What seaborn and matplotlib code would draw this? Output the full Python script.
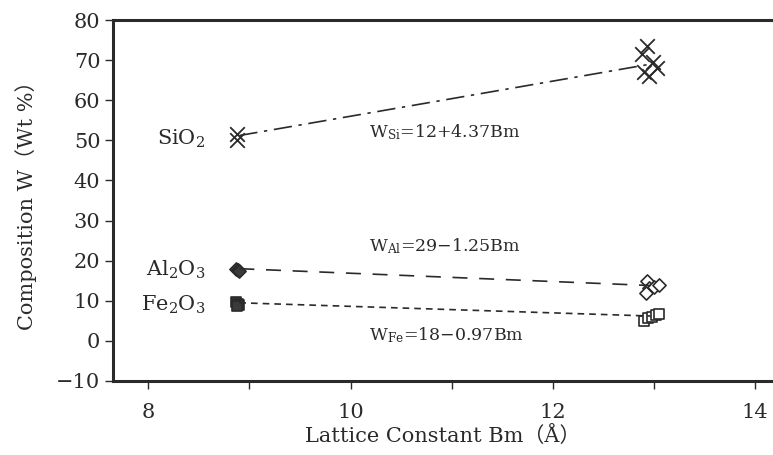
import matplotlib
matplotlib.use("Agg")
import matplotlib.pyplot as plt
import seaborn as sns
import pandas as pd
from matplotlib.ticker import MultipleLocator

# ---- data ----
si_x = [8.88, 8.88, 12.93, 12.88, 12.99, 12.90, 13.03, 12.95]
si_y = [51.5, 50.0, 73.5, 71.5, 69.5, 67.0, 68.0, 66.0]
al_x = [8.87, 8.89, 8.90, 12.93, 12.95, 12.92, 13.00, 13.05]
al_y = [18.0, 17.7, 17.4, 15.0, 13.2, 12.0, 13.5, 14.0]
fe_x = [8.87, 8.89, 8.90, 8.88, 12.90, 12.94, 12.98, 13.02, 13.05]
fe_y = [9.8, 9.3, 9.0, 8.6, 5.0, 5.6, 6.0, 6.5, 6.8]

fit_x = [8.90, 12.97]
si_fit = [51.2, 69.0]
al_fit = [18.0, 13.8]
fe_fit = [9.5, 6.2]

x_ticks = [8, 10, 12, 14]
y_ticks = [-10, 0, 10, 20, 30, 40, 50, 60, 70, 80]

sns.set_theme(style="white")
plt.rcParams['font.family'] = ['DejaVu Serif', 'Noto Sans CJK JP']
plt.rcParams['mathtext.fontset'] = 'dejavuserif'

ink = '#2a2a2a'

pts = pd.concat([
    pd.DataFrame({'Bm': si_x, 'W': si_y, 'oxide': 'SiO2'}),
    pd.DataFrame({'Bm': al_x, 'W': al_y, 'oxide': 'Al2O3'}),
    pd.DataFrame({'Bm': fe_x, 'W': fe_y, 'oxide': 'Fe2O3'}),
], ignore_index=True)
pts['dense'] = pts['Bm'] < 10  # overlapping cluster prints as nearly solid

fig = plt.figure(figsize=(7.73, 4.55), dpi=100)
ax = fig.add_axes([113/773, 74/455, 1 - 113/773, 361/455])

# fit lines
ax.plot(fit_x, si_fit, color=ink, lw=1.2, dashes=(11, 4, 2, 4))
ax.plot(fit_x, al_fit, color=ink, lw=1.2, dashes=(9, 7))
ax.plot(fit_x, fe_fit, color=ink, lw=1.2, dashes=(4, 3))

sns.scatterplot(data=pts[pts.oxide == 'SiO2'], x='Bm', y='W', marker='x', s=110,
                color=ink, linewidth=1.3, ax=ax, legend=False)
for ox, mk, sz in [('Al2O3', 'D', 45), ('Fe2O3', 's', 60)]:
    sub = pts[pts.oxide == ox]
    sns.scatterplot(data=sub[~sub.dense], x='Bm', y='W', marker=mk, s=sz,
                    facecolor='white', edgecolor=ink, linewidth=1.2, ax=ax, legend=False)
    sns.scatterplot(data=sub[sub.dense], x='Bm', y='W', marker=mk, s=sz,
                    facecolor='#3a3a3a', edgecolor=ink, linewidth=1.2, ax=ax, legend=False)

ax.set_xlim(7.65, 14.18)
ax.set_ylim(-10, 80)
ax.set_xticks(x_ticks)
ax.set_yticks(y_ticks)
ax.set_yticklabels([('\u221210' if v == -10 else str(v)) for v in y_ticks])
ax.xaxis.set_minor_locator(MultipleLocator(1))

for s in ['left', 'top', 'bottom']:
    ax.spines[s].set_color(ink)
    ax.spines[s].set_linewidth(2.2)
ax.spines['right'].set_visible(False)

ax.tick_params(axis='both', which='major', direction='out', length=6, width=1,
               color=ink, labelcolor=ink, labelsize=15)
ax.tick_params(axis='x', which='major', pad=10, bottom=True)
ax.tick_params(axis='y', which='major', left=True, pad=3)
ax.tick_params(axis='x', which='minor', direction='out', length=6, width=1, color=ink, bottom=True)

ax.set_xlabel('Lattice Constant Bm（Å）', fontsize=15, color=ink, labelpad=2)
ax.set_ylabel('Composition W（Wt %）', fontsize=15, color=ink, labelpad=14)

ax.text(8.56, 50.3, r'SiO$_{2}$', fontsize=15, color=ink, ha='right', va='center')
ax.text(8.56, 17.7, r'Al$_{2}$O$_{3}$', fontsize=15, color=ink, ha='right', va='center')
ax.text(8.56, 9.0, r'Fe$_{2}$O$_{3}$', fontsize=15, color=ink, ha='right', va='center')

ax.text(10.18, 52.0, r'W$_{\mathrm{Si}}$=12+4.37Bm', fontsize=12.5, color=ink, ha='left', va='center')
ax.text(10.18, 23.5, r'W$_{\mathrm{Al}}$=29−1.25Bm', fontsize=12.5, color=ink, ha='left', va='center')
ax.text(10.18, 1.5, r'W$_{\mathrm{Fe}}$=18−0.97Bm', fontsize=12.5, color=ink, ha='left', va='center')

fig.savefig('out.png', dpi=100, facecolor='white')
